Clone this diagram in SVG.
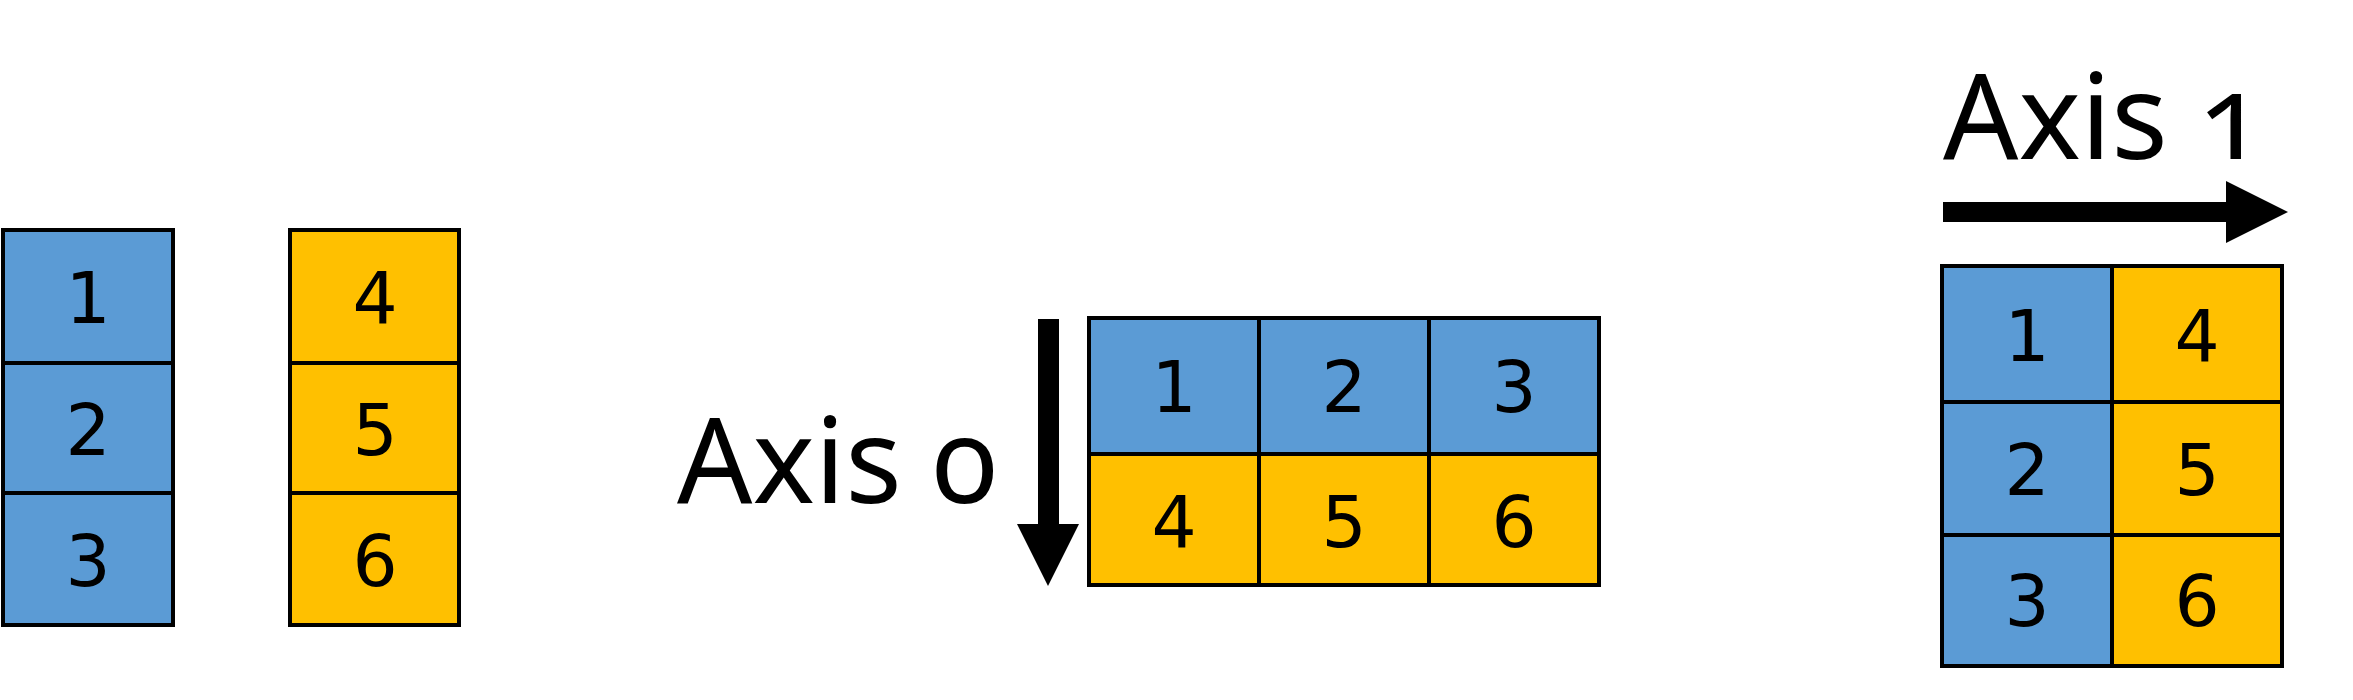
<svg xmlns="http://www.w3.org/2000/svg" width="2353" height="700" viewBox="0 0 2353 700">
<style>
.b{fill:#5B9BD5;stroke:#000;stroke-width:4}
.y{fill:#FFC000;stroke:#000;stroke-width:4}
.d{font-family:"DejaVu Sans",sans-serif;font-size:71px;fill:#000;text-anchor:middle}
.ax{font-family:"Noto Sans","Open Sans",sans-serif;font-size:118px;fill:#000;font-variant-numeric:oldstyle-nums}
</style>
<rect width="2353" height="700" fill="#fff"/>
<g id="left-blue">
<rect class="b" x="3" y="230" width="170" height="133"/>
<rect class="b" x="3" y="363" width="170" height="130"/>
<rect class="b" x="3" y="493" width="170" height="132"/>
<text class="d" x="88" y="323">1</text>
<text class="d" x="88" y="455">2</text>
<text class="d" x="88" y="586">3</text>
</g>
<g id="left-yellow">
<rect class="y" x="290" y="230" width="169" height="133"/>
<rect class="y" x="290" y="363" width="169" height="130"/>
<rect class="y" x="290" y="493" width="169" height="132"/>
<text class="d" x="375" y="323">4</text>
<text class="d" x="375" y="455">5</text>
<text class="d" x="375" y="586">6</text>
</g>
<g id="axis0-label">
<text class="ax" x="677" y="503">Axis 0</text>
</g>
<g id="middle-grid">
<rect class="b" x="1089" y="318" width="170" height="136"/>
<rect class="b" x="1259" y="318" width="170" height="136"/>
<rect class="b" x="1429" y="318" width="170" height="136"/>
<rect class="y" x="1089" y="454" width="170" height="131"/>
<rect class="y" x="1259" y="454" width="170" height="131"/>
<rect class="y" x="1429" y="454" width="170" height="131"/>
<text class="d" x="1174" y="412">1</text>
<text class="d" x="1344" y="412">2</text>
<text class="d" x="1514" y="412">3</text>
<text class="d" x="1174" y="547">4</text>
<text class="d" x="1344" y="547">5</text>
<text class="d" x="1514" y="547">6</text>
</g>
<g id="axis1-label">
<text class="ax" x="1943" y="159">Axis 1</text>
</g>
<g id="right-grid">
<rect class="b" x="1942" y="266" width="170" height="136"/>
<rect class="b" x="1942" y="402" width="170" height="133"/>
<rect class="b" x="1942" y="535" width="170" height="131"/>
<rect class="y" x="2112" y="266" width="170" height="136"/>
<rect class="y" x="2112" y="402" width="170" height="133"/>
<rect class="y" x="2112" y="535" width="170" height="131"/>
<text class="d" x="2027" y="361">1</text>
<text class="d" x="2027" y="495">2</text>
<text class="d" x="2027" y="626">3</text>
<text class="d" x="2197" y="361">4</text>
<text class="d" x="2197" y="495">5</text>
<text class="d" x="2197" y="626">6</text>
</g>
<g id="connectors">
<g id="axis0-arrow">
<rect x="1038" y="319" width="21" height="206" fill="#000"/>
<polygon points="1017,524 1079,524 1048,586" fill="#000"/>
</g>
<g id="axis1-arrow">
<rect x="1943" y="202" width="284" height="20" fill="#000"/>
<polygon points="2226,181 2226,243 2288,212" fill="#000"/>
</g>
</g>
</svg>
